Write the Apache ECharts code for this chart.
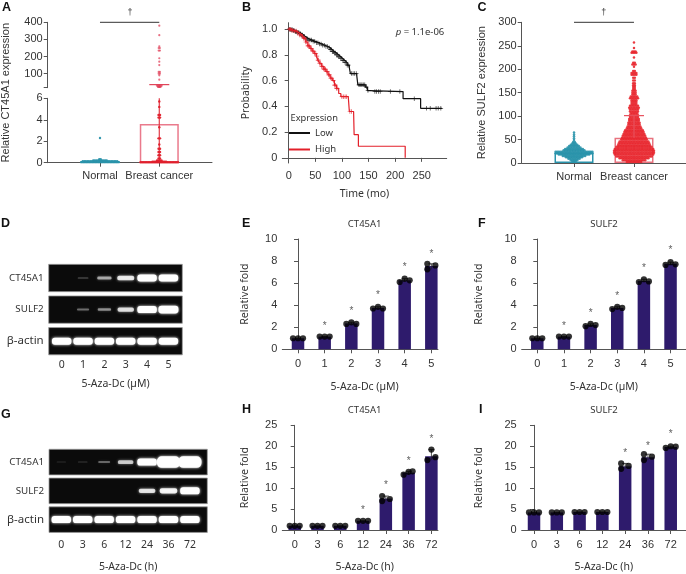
<!DOCTYPE html>
<html><head><meta charset="utf-8">
<style>html,body{margin:0;padding:0;background:#fff}#c{width:686px;height:574px}</style>
<script src="https://cdn.jsdelivr.net/npm/echarts@6/dist/echarts.min.js"></script>
</head><body><div id="c"></div>
<script>
// ---------- data ----------
const groupNames = ['Normal', 'Breast cancer'];
const aBarMeans = [0.15, 3.6];
const aErrorTop = 36;
const aNormalLevels = [[0.05, 26], [0.13, 24], [0.22, 10], [0.32, 2], [2.3, 1]];
const aCancerLowLevels = [[0.04, 26], [0.1, 10], [0.2, 4], [0.4, 2], [0.7, 2], [1.0, 2], [1.3, 2], [1.7, 1], [2.27, 2], [3.3, 1], [4.2, 2], [4.45, 2], [5.2, 1], [5.7, 1]];
const aCancerHighLevels = [[22, 3], [25, 3], [30, 5], [65, 1], [90, 1], [100, 2], [110, 2], [150, 1], [170, 1], [190, 1], [235, 2], [250, 2], [260, 1], [325, 1], [380, 1]];
const cBarMeans = [22, 54];
const cErrorTop = 101;
const cNormalLevels = [[3, 3], [6, 5], [9, 8], [12, 11], [15, 15], [18, 20], [21, 24], [24, 24], [27, 14], [30, 12], [33, 9], [36, 7], [39, 5], [42, 3], [45, 2], [49, 1], [53, 1], [57, 1], [61, 1], [65, 1]];
const cCancerLevels = [[2, 10], [6, 15], [10, 19], [14, 23], [18, 25], [22, 26], [26, 26], [30, 25], [34, 23], [38, 21], [42, 20], [46, 19], [50, 17], [54, 16], [58, 15], [62, 14], [66, 13], [70, 12], [74, 10], [78, 9], [82, 8], [86, 8], [90, 7], [94, 7], [98, 6], [102, 6], [106, 5], [110, 6], [114, 6], [118, 7], [122, 6], [126, 4], [130, 4], [134, 4], [138, 6], [142, 5], [146, 3], [150, 3], [154, 3], [158, 2], [162, 2], [166, 2], [170, 2], [176, 2], [182, 2], [188, 4], [192, 4], [196, 2], [205, 1], [210, 3], [214, 2], [225, 1], [235, 4], [238, 3], [245, 1], [257, 1]];

const kmLow = [[0,1],[4,.995],[8,.99],[12,.98],[16,.975],[20,.965],[24,.955],[28,.94],[32,.925],[38,.915],[44,.905],[50,.895],[56,.885],[62,.875],[68,.865],[74,.855],[78,.84],[82,.825],[86,.815],[90,.8],[94,.785],[98,.77],[102,.755],[106,.74],[110,.72],[114,.7],[116,.655],[128,.637],[130,.567],[144,.55],[148,.523],[152,.515],[215,.46],[248,.385],[288,.385]];
const kmHigh = [[0,1],[5,.99],[10,.985],[15,.97],[20,.955],[25,.945],[28,.93],[32,.9],[36,.87],[40,.85],[44,.83],[48,.81],[52,.79],[55,.76],[58,.735],[62,.71],[66,.69],[70,.67],[74,.645],[78,.62],[82,.6],[86,.565],[90,.54],[94,.5],[98,.475],[112,.47],[114,.36],[122,.345],[123,.18],[131,.09],[219,0]];
const kmLowCensored = [2,4,5,7,9,10,13,15,16,19,21,22,24,26,28,30,33,35,38,40,43,46,49,52,55,58,61,64,67,70,73,76,78,80,82,84,86,88,90,92,94,96,98,100,102,104,106,108,110,112,118,121,124,127,132,134,136,138,141,143,146,149,162,165,169,172,191,209,236,259,266,277,281,286];
const kmHighCensored = [1,3,6,8,11,14,17,20,23,26,28,30,32,34,36,37,39,41,43,45,47,49,51,53,55,56,58,60,62,64,66,67,69,71,73,75,77,79,81,84,86,88,90,91,100,103,106,109,115,118];
const timeTicks = [0, 50, 100, 150, 200, 250];
const probTicks = [0, 0.2, 0.4, 0.6, 0.8, 1];

const doseLabels = ['0', '1', '2', '3', '4', '5'];
const hourLabels = ['0', '3', '6', '12', '24', '36', '72'];
const gelRows = ['CT45A1', 'SULF2', 'β-actin'];
const gelDIntensity = [[0,.16,.5,.75,1,1],[0,.3,.42,.7,1,1.05],[1,1,1,1,1,1]];
const gelGIntensity = [[.03,.06,.28,.62,1,1.35,1.35],[0,0,0,0,.72,.82,1],[1,1,1,1,1,1,1]];

const eReps = [[1,1,1],[1.15,1.15,1.15],[2.3,2.45,2.3],[3.7,3.85,3.7],[6.1,6.4,6.25],[7.75,7.25,7.6]];
const eMeans = [1,1.15,2.35,3.75,6.25,7.55];
const eStars = [null,2.2,3.55,5,7.55,8.75];
const fReps = [[1,1,1],[1.15,1.15,1.15],[2.1,2.3,2.2],[3.65,3.85,3.75],[6.1,6.35,6.15],[7.65,7.9,7.7]];
const fMeans = [1,1.15,2.2,3.75,6.2,7.75];
const fStars = [null,2.2,3.4,4.9,7.4,9.1];
const hReps = [[1,1,1],[1,1,1],[1,1,1],[2.2,2.2,2.2],[8.1,6.9,7.4],[13.2,13.9,14],[16.7,19.2,17.4]];
const hMeans = [1,1,1,2.2,7.5,13.7,17.6];
const hStars = [null,null,null,4.9,10.9,16.7,22];
const iReps = [[4.2,4.2,4.2],[4.2,4.2,4.2],[4.3,4.3,4.3],[4.3,4.3,4.3],[15.9,14.6,15.3],[18.1,16.7,17.5],[19.6,20,19.9]];
const iMeans = [4.2,4.2,4.3,4.3,15.2,17.4,19.8];
const iStars = [null,null,null,null,18.6,20.3,23];

// ---------- style ----------
const FONT = '"Liberation Sans", Arial, sans-serif';
const NOTO = '"Noto Sans", sans-serif';
const TXT = '#333', AX = '#555';
const RED = '#e8262e', TEAL = '#2a93ab', PURPLE = '#2e1b6c';
const axisLine = {show: true, lineStyle: {color: AX, width: 1}};
const axisTick = {show: true, length: 4, lineStyle: {color: AX, width: 1}};

const grids = [], xAxes = [], yAxes = [], series = [];
function addGrid(left, top, right, bottom, xa, ya) {
  const i = grids.length;
  grids.push({left, top, width: right - left, height: bottom - top});
  xAxes.push(Object.assign({gridIndex: i, type: 'value', splitLine: {show: false}, axisLine, axisTick,
    axisLabel: {color: TXT, fontFamily: FONT, fontSize: 11, margin: 6}}, xa));
  yAxes.push(Object.assign({gridIndex: i, type: 'value', splitLine: {show: false}, axisLine, axisTick,
    axisLabel: {color: TXT, fontFamily: FONT, fontSize: 11, margin: 5}}, ya));
  return i;
}
function labelledX(labels, first, min, max, margin, extra) {
  const vals = labels.map((_, i) => i + first);
  return Object.assign({min, max, axisTick: Object.assign({}, axisTick, {customValues: vals}),
    axisLabel: {color: TXT, fontFamily: FONT, fontSize: 11, margin, customValues: vals, formatter: v => labels[Math.round(v) - first]}}, extra);
}
function swarm(center, levels, step) {
  const out = [];
  levels.forEach(([v, n]) => { for (let k = 0; k < n; k++) out.push({value: [center, v], symbolOffset: [(k - (n - 1) / 2) * step, 0]}); });
  return out;
}
function errorSeries(g, data, color, cap, w, z) {
  return {type: 'custom', xAxisIndex: g, yAxisIndex: g, z, silent: true, clip: false, data,
    encode: {x: 0, y: [1, 2]},
    renderItem(p, api) {
      const x = api.value(0), a = api.coord([x, api.value(1)]), b = api.coord([x, api.value(2)]);
      const st = {stroke: color, lineWidth: w};
      const kids = [{type: 'line', shape: {x1: a[0], y1: a[1], x2: b[0], y2: b[1]}, style: st}];
      if (cap) kids.push({type: 'line', shape: {x1: b[0] - cap, y1: b[1], x2: b[0] + cap, y2: b[1]}, style: st});
      return {type: 'group', children: kids};
    }};
}
function stepLookup(curve, t) { let s = curve[0][1]; for (const [x, y] of curve) { if (x <= t) s = y; } return s; }

// ---------- panel A ----------
const aUp = addGrid(47.7, 22.3, 212, 87.7,
  labelledX(groupNames, 1, 0.118, 2.889, 6, {axisLine: {show: false}, axisTick: {show: false}, axisLabel: {show: false}}),
  {min: 18, max: 400, axisTick: Object.assign({}, axisTick, {customValues: [18, 100, 200, 300, 400]}),
   axisLabel: {color: TXT, fontFamily: FONT, fontSize: 11, margin: 5, customValues: [100, 200, 300, 400]}});
const aLow = addGrid(47.7, 98.3, 212, 162.7,
  labelledX(groupNames, 1, 0.118, 2.889, 8), {min: 0, max: 6, interval: 2});
series.push({type: 'bar', xAxisIndex: aLow, yAxisIndex: aLow, barWidth: 39, z: 2,
  itemStyle: {color: 'rgba(0,0,0,0)', borderWidth: 1.5},
  data: [{value: [1, aBarMeans[0]], itemStyle: {borderColor: TEAL}}, {value: [2, aBarMeans[1]], itemStyle: {borderColor: '#ea7a8c'}}]});
series.push(errorSeries(aLow, [[2, 0, 6]], '#e23a48', 0, 1.2, 3));
series.push(errorSeries(aUp, [[2, 18, aErrorTop]], '#e0465a', 10, 1.2, 3));
series.push({type: 'scatter', xAxisIndex: aLow, yAxisIndex: aLow, symbolSize: 2.4, z: 4, itemStyle: {color: TEAL, opacity: .95}, data: swarm(1, aNormalLevels, 1.5)});
series.push({type: 'scatter', xAxisIndex: aLow, yAxisIndex: aLow, symbolSize: 2.4, z: 4, itemStyle: {color: '#e0202c', opacity: .95}, data: swarm(2, aCancerLowLevels, 1.5)});
series.push({type: 'scatter', xAxisIndex: aUp, yAxisIndex: aUp, symbolSize: 2.2, z: 4, itemStyle: {color: '#e0405a', opacity: .75}, data: swarm(2, aCancerHighLevels, 1.2)});
series.push({type: 'line', xAxisIndex: aUp, yAxisIndex: aUp, clip: false, symbol: 'none', z: 3, data: [[1, 400], [2, 400]], lineStyle: {color: '#333', width: 1}});

// ---------- panel B ----------
const b = addGrid(282.3, 22.7, 446.7, 163,
  {min: -12, max: 297, name: 'Time (mo)', nameLocation: 'middle', nameGap: 26,
   nameTextStyle: {color: TXT, fontFamily: NOTO, fontSize: 10.5},
   axisTick: Object.assign({}, axisTick, {customValues: timeTicks}),
   axisLabel: {color: TXT, fontFamily: FONT, fontSize: 11, margin: 7, customValues: timeTicks}},
  {min: -0.04, max: 1.05, name: 'Probability', nameLocation: 'middle', nameGap: 31,
   nameTextStyle: {color: TXT, fontFamily: NOTO, fontSize: 10.5},
   axisTick: Object.assign({}, axisTick, {customValues: probTicks}),
   axisLabel: {color: TXT, fontFamily: FONT, fontSize: 11, margin: 5, customValues: probTicks,
     formatter: v => (v === 0 ? '0' : v.toFixed(1))}});
const plus = 'path://M4.2 0H5.8V4.2H10V5.8H5.8V10H4.2V5.8H0V4.2H4.2Z';
series.push({name: 'Low', type: 'line', step: 'end', xAxisIndex: b, yAxisIndex: b, symbol: 'none', z: 3, data: kmLow, lineStyle: {color: '#111', width: 1.2}, itemStyle: {color: '#111'}});
series.push({name: 'High', type: 'line', step: 'end', xAxisIndex: b, yAxisIndex: b, symbol: 'none', z: 4, data: kmHigh, lineStyle: {color: '#e3202a', width: 1.2}, itemStyle: {color: '#e3202a'}});
series.push({name: 'Low censored', type: 'scatter', xAxisIndex: b, yAxisIndex: b, symbol: plus, symbolSize: 4.5, z: 3, itemStyle: {color: '#111'}, data: kmLowCensored.map(t => [t, stepLookup(kmLow, t)])});
series.push({name: 'High censored', type: 'scatter', xAxisIndex: b, yAxisIndex: b, symbol: plus, symbolSize: 4.5, z: 4, itemStyle: {color: '#e3202a'}, data: kmHighCensored.map(t => [t, stepLookup(kmHigh, t)])});

// ---------- panel C ----------
const c = addGrid(521.7, 22.3, 686, 163,
  labelledX(groupNames, 1, 0.128, 2.867, 8),
  {min: 0, max: 300, interval: 50, name: 'Relative SULF2 expression', nameLocation: 'middle', nameGap: 34,
   nameTextStyle: {color: TXT, fontFamily: FONT, fontSize: 11}});
series.push({type: 'bar', xAxisIndex: c, yAxisIndex: c, barWidth: 39, z: 2, itemStyle: {color: 'rgba(0,0,0,0)', borderWidth: 1.5},
  data: [{value: [1, cBarMeans[0]], itemStyle: {borderColor: TEAL}}, {value: [2, cBarMeans[1]], itemStyle: {borderColor: '#e8737f'}}]});
series.push({type: 'scatter', xAxisIndex: c, yAxisIndex: c, symbolSize: 2.5, z: 4, itemStyle: {color: TEAL, opacity: .9}, data: swarm(1, cNormalLevels, 1.6)});
series.push({type: 'scatter', xAxisIndex: c, yAxisIndex: c, symbolSize: 2.5, z: 4, itemStyle: {color: RED, opacity: .9}, data: swarm(2, cCancerLevels, 1.6)});
series.push(errorSeries(c, [[2, cBarMeans[1], cErrorTop]], '#e8505c', 10, 1.2, 5));
series.push({type: 'line', xAxisIndex: c, yAxisIndex: c, clip: false, symbol: 'none', z: 3, data: [[1, 300], [2, 300]], lineStyle: {color: '#333', width: 1}});

// ---------- gels ----------
function gel(left, top, right, bottom, labels, min, max, intensity, rowH, margin, nameGap, name) {
  const vals = labels.map((_, i) => i);
  const g = addGrid(left, top, right, bottom,
    {min, max, name, nameLocation: 'middle', nameGap,
     nameTextStyle: {color: TXT, fontFamily: NOTO, fontSize: 10.5},
     axisLine: {show: false}, axisTick: {show: false},
     axisLabel: {color: TXT, fontFamily: NOTO, fontSize: 10.5, margin, customValues: vals, formatter: v => labels[Math.round(v)]}},
    {type: 'category', inverse: true, axisLine: {show: false}, axisTick: {show: false},
     data: gelRows.map(r => ({value: r, textStyle: {fontSize: r === 'β-actin' ? 11.5 : 9.8, color: TXT, fontFamily: NOTO}})),
     axisLabel: {margin: 5, color: TXT, fontFamily: NOTO, fontSize: 9.8}});
  series.push({type: 'custom', xAxisIndex: g, yAxisIndex: g, z: 1, silent: true, clip: false,
    data: gelRows.map((_, r) => [min, r, max]), encode: {x: 0, y: 1},
    renderItem(p, api) {
      const a = api.coord([api.value(0), api.value(1)]), e = api.coord([api.value(2), api.value(1)]);
      return {type: 'rect', shape: {x: a[0], y: a[1] - rowH / 2, width: e[0] - a[0], height: rowH},
        style: {fill: '#0b0b0b', stroke: '#9a9a9a', lineWidth: .8}};
    }});
  const pts = [];
  intensity.forEach((row, r) => row.forEach((v, l) => { if (v > 0) pts.push([l, r, v]); }));
  series.push({type: 'custom', xAxisIndex: g, yAxisIndex: g, z: 2, silent: true, clip: false, data: pts, encode: {x: 0, y: 1},
    renderItem(p, api) {
      const v = api.value(2), q = api.coord([api.value(0), api.value(1)]);
      const w = 9 + 10.5 * Math.min(v, 1.4), h = 1.5 + 5.5 * v * v, al = Math.min(1, .06 + v);
      return {type: 'rect', shape: {x: q[0] - w / 2, y: q[1] - h / 2, width: w, height: h, r: h / 2.4},
        style: {fill: 'rgba(255,255,255,' + al + ')', shadowBlur: 3, shadowColor: 'rgba(255,255,255,' + al + ')'}};
    }});
}
gel(48.7, 262.2, 182.3, 357, doseLabels, -0.61, 5.65, gelDIntensity, 27.3, 3, 22, '5-Aza-Dc (µM)');
gel(49, 447.7, 207.3, 537.3, hourLabels, -0.574, 6.81, gelGIntensity, 25.6, 6, 28, '5-Aza-Dc (h)');

// ---------- bar panels ----------
function barPanel(left, top, right, bottom, labels, min, max, yMax, yInt, means, reps, stars, slots, nameLabel, namePad, yGap) {
  const g = addGrid(left, top, right, bottom,
    labelledX(labels, 0, min, max, 9, {name: nameLabel, nameLocation: 'middle', nameGap: 32,
      nameTextStyle: {color: TXT, fontFamily: NOTO, fontSize: 10.5, padding: namePad}}),
    {min: 0, max: yMax, interval: yInt, name: 'Relative fold', nameLocation: 'middle', nameGap: yGap,
     nameTextStyle: {color: TXT, fontFamily: NOTO, fontSize: 10.6}});
  series.push({type: 'bar', xAxisIndex: g, yAxisIndex: g, barWidth: 12.5, z: 2, itemStyle: {color: PURPLE}, data: means.map((m, i) => [i, m])});
  series.push(errorSeries(g, reps.map((r, i) => [i, Math.min(...r), Math.max(...r)]), '#222', 3, .8, 3));
  const dots = [];
  reps.forEach((r, i) => r.forEach((v, k) => dots.push({value: [i, v], symbolOffset: [(slots[i] || [-5, 0, 5])[k], 0]})));
  series.push({type: 'scatter', xAxisIndex: g, yAxisIndex: g, symbolSize: 6.2, z: 4, itemStyle: {color: '#000'}, data: dots});
  series.push({type: 'scatter', xAxisIndex: g, yAxisIndex: g, symbolSize: 1, z: 5, itemStyle: {color: 'rgba(0,0,0,0)'},
    label: {show: true, position: 'inside', formatter: '*', color: '#333', fontFamily: FONT, fontSize: 10, offset: [0, 1]},
    data: stars.map((s, i) => [i, s]).filter(d => d[1] !== null)});
}
barPanel(282.3, 239, 438, 349.3, doseLabels, -0.589, 5.25, 10, 2, eMeans, eReps, eStars, {5: [-4, -4, 4]}, '5-Aza-Dc (µM)', [0, 0, 0, 9], 32);
barPanel(521.7, 239, 686, 349.3, doseLabels, -0.585, 5.58, 10, 2, fMeans, fReps, fStars, {}, '5-Aza-Dc (µM)', 0, 37);
barPanel(282.3, 425.3, 438, 535, hourLabels, -0.545, 6.29, 25, 5, hMeans, hReps, hStars, {4: [-3.7, -3.7, 4], 5: [-5, 0, 4], 6: [-4, 0, 4]}, '5-Aza-Dc (h)', [0, 0, 0, 9], 32);
barPanel(521.7, 425.3, 686, 535, hourLabels, -0.54, 6.67, 25, 5, iMeans, iReps, iStars, {4: [-4, -4, 3.5], 5: [-4, -4, 4]}, '5-Aza-Dc (h)', 0, 37);

// ---------- texts ----------
function t(text, x, y, fs, extra) {
  return {text, left: x, top: y, textVerticalAlign: 'middle', textAlign: (extra && extra.align) || 'left', padding: 0,
    textStyle: Object.assign({color: TXT, fontFamily: FONT, fontSize: fs, fontWeight: 'normal'}, extra && extra.style)};
}
const bold = {style: {fontWeight: 'bold', color: '#111', fontSize: 12.5}};
const titles = [
  t('A', 2, 8, 12, bold), t('B', 242, 8, 12, bold), t('C', 477.5, 8, 12, bold),
  t('D', 1, 224, 12, bold), t('E', 242, 224, 12, bold), t('F', 478, 224, 12, bold),
  t('G', 1, 415, 12, bold), t('H', 242, 410, 12, bold), t('I', 479, 410, 12, bold),
  t('†', 130, 13, 9, {align: 'center'}), t('†', 603.7, 13, 9, {align: 'center'}),
  t('CT45A1', 364.7, 224, 9.5, {align: 'center', style: {fontFamily: NOTO}}), t('SULF2', 604, 224, 9.5, {align: 'center', style: {fontFamily: NOTO}}),
  t('CT45A1', 364.7, 410, 9.5, {align: 'center', style: {fontFamily: NOTO}}), t('SULF2', 604, 410, 9.5, {align: 'center', style: {fontFamily: NOTO}}),
  t('Expression', 290.5, 118, 9.3, {style: {fontFamily: NOTO}}),
  {text: '{i|p} = 1.1e-06', left: 395.7, top: 32.5, textVerticalAlign: 'middle', padding: 0,
   textStyle: {color: TXT, fontFamily: NOTO, fontSize: 9.5, fontWeight: 'normal',
     rich: {i: {fontStyle: 'italic', fontFamily: NOTO, fontSize: 9.5, color: TXT}}}}
];

const chart = echarts.init(document.getElementById('c'), null, {renderer: 'canvas'});
chart.setOption({
  animation: false, backgroundColor: '#fff',
  grid: grids, xAxis: xAxes, yAxis: yAxes, series, title: titles,
  legend: {data: ['Low', 'High'], orient: 'vertical', left: 289, top: 128, padding: 0, icon: 'rect', itemWidth: 21, itemHeight: 2, itemGap: 6.5,
    textStyle: {color: TXT, fontFamily: NOTO, fontSize: 9.5}, selectedMode: false},
  graphic: [{type: 'text', x: 6, y: 92.7, rotation: Math.PI / 2, silent: true,
    style: {text: 'Relative CT45A1 expression', fill: TXT, font: '11px ' + FONT, align: 'center', verticalAlign: 'middle'}}]
});
</script></body></html>
